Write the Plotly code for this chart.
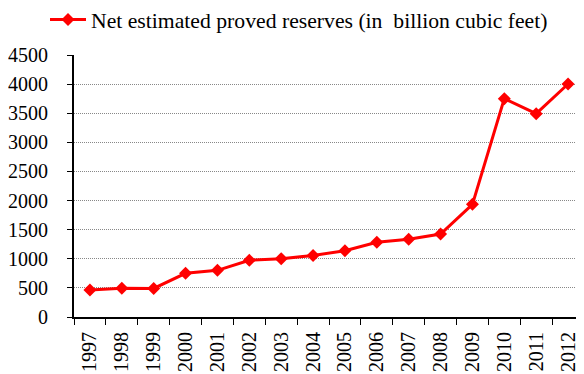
import plotly.graph_objects as go

years = ["1997", "1998", "1999", "2000", "2001", "2002", "2003", "2004",
         "2005", "2006", "2007", "2008", "2009", "2010", "2011", "2012"]
reserves = [464, 492, 490, 750, 802, 974, 1002, 1058,
            1139, 1283, 1334, 1426, 1935, 3750, 3492, 4002]
series_name = "Net estimated proved reserves (in  billion cubic feet)"
y_ticks = [0, 500, 1000, 1500, 2000, 2500, 3000, 3500, 4000, 4500]

fig = go.Figure()
fig.add_trace(go.Scatter(
    x=years, y=reserves, name=series_name, mode="lines+markers",
    line=dict(color="#ff0000", width=3),
    marker=dict(symbol="diamond", size=10, color="#ff0000"),
))

W, H = 576, 366  # page body has an 8px margin
font = dict(family="Times New Roman, Liberation Serif, serif", size=20, color="black")
legend_font = dict(family="Times New Roman, Liberation Serif, serif", size=21.7, color="black")
fig.update_layout(
    width=W, height=H,
    margin=dict(l=66, r=0, t=47, b=57, autoexpand=False),
    paper_bgcolor="white", plot_bgcolor="white",
    font=font,
    showlegend=True,
    legend=dict(x=37 / W, y=1 - 12 / H, xref="container", yref="container",
                xanchor="left", yanchor="middle", itemwidth=36,
                orientation="h", font=legend_font, bgcolor="rgba(0,0,0,0)"),
    xaxis=dict(type="category", range=[-0.5, len(years) - 0.5],
               tickangle=-90, tickson="boundaries",
               ticks="outside", ticklen=6, tickcolor="black",
               showline=True, linecolor="black", linewidth=2,
               showgrid=False, tickfont=font, automargin=False,
               ticklabelstandoff=5),
    yaxis=dict(range=[0, 4500], tickvals=y_ticks, ticks="outside", ticklen=5,
               tickcolor="black", showline=True, linecolor="black", linewidth=2,
               showgrid=True, gridcolor="#888888", griddash="1px,1px", gridwidth=1,
               zeroline=False, tickfont=font, ticklabelstandoff=15, automargin=False),
)
fig.write_html("out.html")
